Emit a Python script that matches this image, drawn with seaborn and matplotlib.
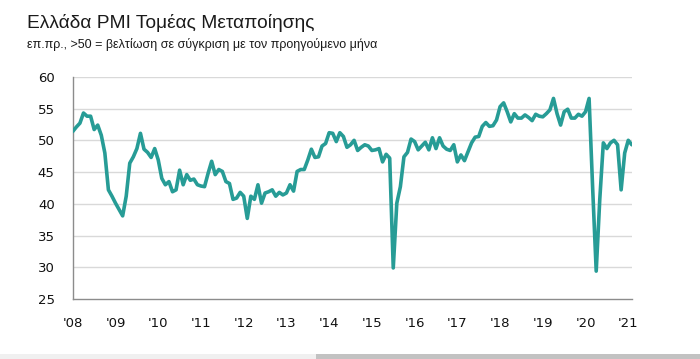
import numpy as np
import pandas as pd
import matplotlib
matplotlib.use("Agg")
import matplotlib.pyplot as plt
import seaborn as sns
from matplotlib.patches import Rectangle

title = "Ελλάδα PMI Τομέας Μεταποίησης"
subtitle = "επ.πρ., >50 = βελτίωση σε σύγκριση με τον προηγούμενο μήνα"

start_year = 2008
pmi = [
    # 2008
    51.4, 52.1, 52.7, 54.3, 53.8, 53.8, 51.7, 52.4, 50.8, 48.0, 42.2, 41.2,
    # 2009
    40.1, 39.1, 38.1, 41.2, 46.4, 47.4, 48.7, 51.1, 48.6, 48.1, 47.3, 48.7,
    # 2010
    46.9, 44.0, 43.0, 43.5, 41.9, 42.2, 45.3, 43.0, 44.6, 43.7, 43.9, 43.0,
    # 2011
    42.8, 42.7, 44.8, 46.7, 44.6, 45.4, 45.1, 43.5, 43.2, 40.7, 40.9, 41.8,
    # 2012
    41.2, 37.7, 41.2, 40.7, 43.0, 40.1, 41.7, 41.9, 42.2, 41.2, 41.8, 41.4,
    # 2013
    41.7, 43.0, 42.0, 45.1, 45.4, 45.4, 46.9, 48.6, 47.3, 47.4, 49.1, 49.5,
    # 2014
    51.2, 51.1, 49.8, 51.2, 50.6, 48.9, 49.3, 50.0, 48.4, 48.9, 49.3, 49.1,
    # 2015
    48.4, 48.5, 48.7, 46.6, 47.8, 47.2, 29.9, 40.1, 42.7, 47.4, 48.1, 50.2,
    # 2016
    49.8, 48.5, 49.1, 49.7, 48.5, 50.4, 48.7, 50.4, 49.1, 48.6, 48.4, 49.3,
    # 2017
    46.6, 47.7, 46.8, 48.2, 49.6, 50.5, 50.6, 52.2, 52.8, 52.2, 52.3, 53.2,
    # 2018
    55.3, 55.9, 54.5, 52.9, 54.2, 53.5, 53.5, 54.0, 53.6, 53.1, 54.1, 53.8,
    # 2019
    53.7, 54.2, 54.8, 56.6, 54.2, 52.4, 54.5, 54.9, 53.5, 53.5, 54.1, 53.8,
    # 2020
    54.5, 56.6, 42.5, 29.4, 40.7, 49.6, 48.7, 49.6, 50.0, 49.3, 42.2, 48.0,
    # 2021
    50.0, 49.3,
]

year_ticks = list(range(2008, 2022))
year_labels = ["'" + str(y)[2:] for y in year_ticks]
y_ticks = [25, 30, 35, 40, 45, 50, 55, 60]

df = pd.DataFrame({
    "t": [start_year + i / 12 for i in range(len(pmi))],
    "pmi": pmi,
})

sns.set_theme(style="white")
plt.rcParams["font.family"] = ["DejaVu Sans"]

fig = plt.figure(figsize=(7.0, 3.59), dpi=100)
ax = fig.add_axes([0.104, 0.167, 0.799, 0.619])

for yv in y_ticks[1:]:
    ax.axhline(yv, color="#d9d9d9", lw=1.0, zorder=0)

sns.lineplot(data=df, x="t", y="pmi", ax=ax, color="#279c96", lw=2.6,
             zorder=3, solid_joinstyle="round", solid_capstyle="round")

ax.set_xlim(2008, 2021.09)
ax.set_ylim(25, 60)
ax.set_xticks(year_ticks)
ax.set_xticklabels(year_labels)
ax.set_yticks(y_ticks)
ax.set_xlabel("")
ax.set_ylabel("")

for s in ["top", "right"]:
    ax.spines[s].set_visible(False)
for s in ["left", "bottom"]:
    ax.spines[s].set_color("#8c8c8c")
    ax.spines[s].set_linewidth(1.0)

ax.tick_params(axis="x", direction="out", length=4, width=1, color="#8c8c8c",
               pad=9, labelsize=9.5, labelcolor="#111111")
ax.tick_params(axis="y", direction="out", length=4, width=1, color="#8c8c8c",
               pad=9, labelsize=9.5, labelcolor="#111111")
ax.grid(False)

fig.text(0.038, 0.922, title, fontsize=13.8, family=["Liberation Sans", "DejaVu Sans"],
         color="#1a1a1a", va="baseline", ha="left")
fig.text(0.038, 0.866, subtitle, fontsize=9.0, family=["Liberation Sans", "DejaVu Sans"],
         color="#1a1a1a", va="baseline", ha="left")

# bottom scroll strip
fig.patches.append(Rectangle((0, 0), 316 / 700, 5 / 359, transform=fig.transFigure,
                             facecolor="#f0f0f0", edgecolor="none"))
fig.patches.append(Rectangle((316 / 700, 0), 1 - 316 / 700, 5 / 359, transform=fig.transFigure,
                             facecolor="#c2c2c2", edgecolor="none"))

fig.savefig("out.png", dpi=100)
